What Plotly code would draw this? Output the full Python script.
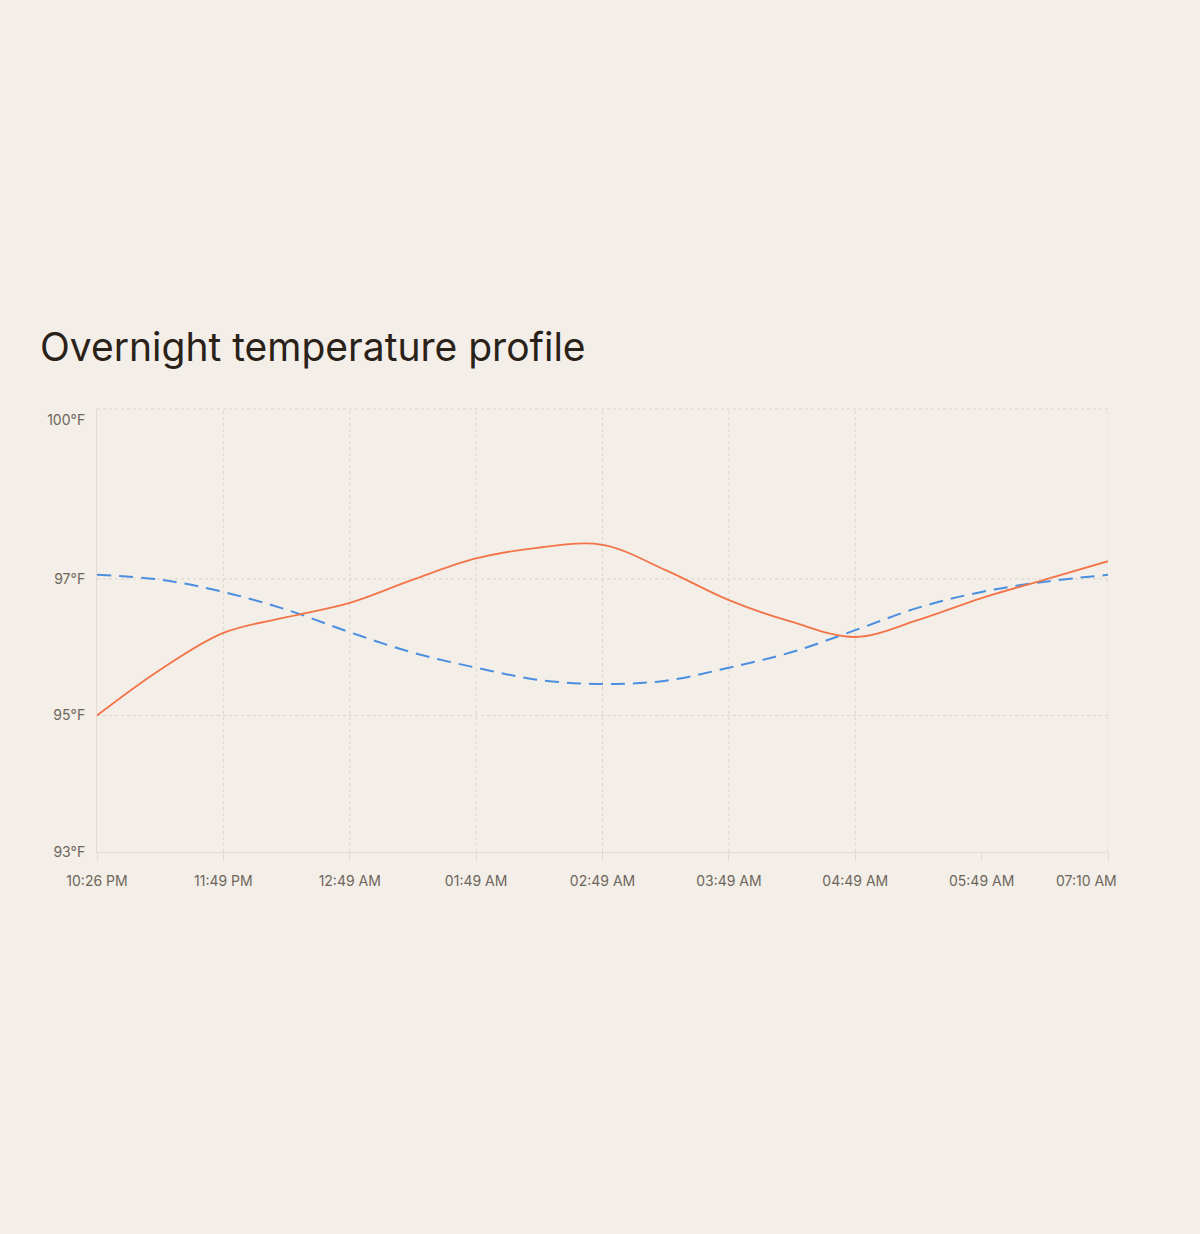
import plotly.graph_objects as go

# ---- data ----
time_labels = ["10:26 PM", "11:49 PM", "12:49 AM", "01:49 AM", "02:49 AM",
               "03:49 AM", "04:49 AM", "05:49 AM", "07:10 AM"]
# sample positions (category index, with half-steps between labels)
sample_pos = [0, 0.5, 1, 1.5, 2, 2.5, 3, 3.5, 4, 4.5, 5, 5.5, 6, 6.5, 7, 7.5, 8]
measured_temp = [95.00, 95.67, 96.21, 96.44, 96.65, 96.99, 97.30, 97.46, 97.50,
                 97.13, 96.69, 96.37, 96.15, 96.40, 96.72, 96.99, 97.26]
baseline_temp = [97.06, 96.99, 96.81, 96.55, 96.22, 95.92, 95.70, 95.52, 95.46,
                 95.51, 95.70, 95.93, 96.25, 96.58, 96.81, 96.96, 97.06]
y_tick_vals = [93, 95, 97, 99.33]
y_tick_text = ["93°F", "95°F", "97°F", "100°F"]
y_grid_vals = [95, 97]
x_grid_vals = [1, 2, 3, 4, 5, 6, 8]
y_range = [93, 99.49]

BG = "#f3eee7"
GRID = "#dcd4ca"
AXIS = "#e2dbd2"
TICKFONT = dict(family="Inter, Noto Sans, sans-serif", size=14, color="#6e665c")

# last label sits left-aligned to the plot edge in the reference
tick_text_x = time_labels[:-1] + [time_labels[-1] + "\u00a0" * 11]

fig = go.Figure()
fig.add_trace(go.Scatter(
    x=sample_pos, y=baseline_temp, mode="lines",
    line=dict(color="#4a8fe0", width=2, dash="14px,8px", shape="spline", smoothing=1),
    hoverinfo="skip", showlegend=False))
fig.add_trace(go.Scatter(
    x=sample_pos, y=measured_temp, mode="lines",
    line=dict(color="#f27448", width=1.8, shape="spline", smoothing=1),
    hoverinfo="skip", showlegend=False))

shapes = []
for yv in y_grid_vals:
    shapes.append(dict(type="line", xref="x domain", yref="y", x0=0, x1=1, y0=yv, y1=yv,
                       line=dict(color=GRID, width=1, dash="3px,3px"), layer="below"))
shapes.append(dict(type="line", xref="x domain", yref="y domain", x0=0, x1=1, y0=1, y1=1,
                   line=dict(color=GRID, width=1, dash="3px,3px"), layer="below"))
for xv in x_grid_vals:
    shapes.append(dict(type="line", xref="x", yref="y domain", x0=xv, x1=xv, y0=0, y1=1,
                       line=dict(color=GRID, width=1, dash="3px,3px"), layer="below"))

fig.update_layout(
    width=1200, height=1234,
    paper_bgcolor=BG, plot_bgcolor=BG,
    margin=dict(l=97, r=92, t=409, b=382),
    shapes=shapes,
    title=dict(text="Overnight temperature profile", x=40 / 1200, xref="container",
               xanchor="left", y=1 - 347 / 1234, yref="container", yanchor="middle",
               font=dict(family="Inter, Noto Sans, sans-serif", size=39, color="#2a2119")),
    xaxis=dict(range=[0, 8], tickvals=list(range(len(time_labels))), ticktext=tick_text_x,
               showgrid=False, zeroline=False, showline=True, linecolor=AXIS, linewidth=1,
               ticks="outside", ticklen=8, tickcolor=AXIS, tickfont=TICKFONT,
               ticklabelstandoff=8),
    yaxis=dict(range=y_range, tickvals=y_tick_vals, ticktext=y_tick_text,
               showgrid=False, zeroline=False, showline=True, linecolor=AXIS, linewidth=1,
               ticks="", tickfont=TICKFONT, ticklabelstandoff=8),
)

fig.write_html("out.html", config={"displayModeBar": False},
               post_script="document.body.style.margin='0';document.body.style.background='#f3eee7';")
